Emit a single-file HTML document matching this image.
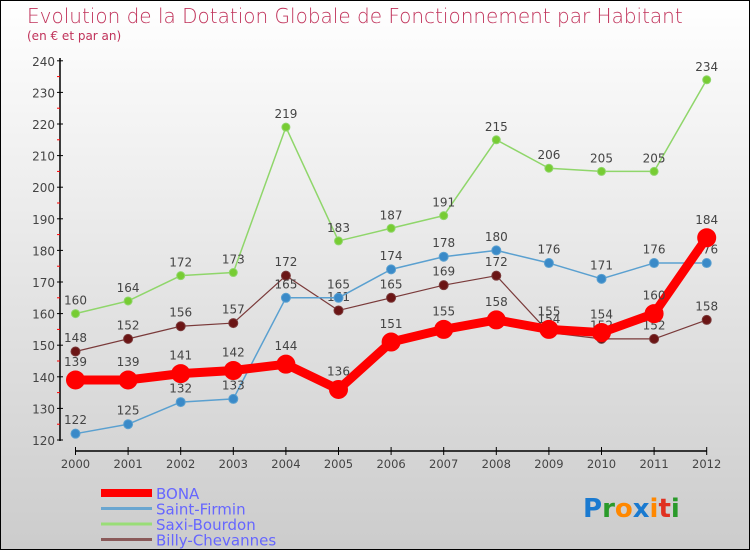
<!DOCTYPE html>
<html><head><meta charset="utf-8"><style>
body{margin:0}
#wrap{position:relative;width:748px;height:548px;border:1px solid #000;background:linear-gradient(#fff,#ccc);font-family:"DejaVu Sans","Liberation Sans",sans-serif;overflow:hidden}
svg text{font-family:"DejaVu Sans","Liberation Sans",sans-serif}
</style></head><body>
<div id="wrap">
<svg id="c" width="748" height="548">
<text x="26" y="22" font-size="20" fill="#c0325a" style="font-weight:200">Evolution de la Dotation Globale de Fonctionnement par Habitant</text>
<text x="26" y="39" font-size="12" fill="#c0325a">(en € et par an)</text>
</svg>
</div>
<script>
const years=["2000","2001","2002","2003","2004","2005","2006","2007","2008","2009","2010","2011","2012"];
const bona=[139,139,141,142,144,136,151,155,158,155,154,160,184];
const saintFirmin=[122,125,132,133,165,165,174,178,180,176,171,176,176];
const saxiBourdon=[160,164,172,173,219,183,187,191,215,206,205,205,234];
const billy=[148,152,156,157,172,161,165,169,172,154,152,152,158];
const yTicks=[120,130,140,150,160,170,180,190,200,210,220,230,240];
const NS="http://www.w3.org/2000/svg";
const svg=document.getElementById('c');
const x=i=>74.5+i*52.6;
const y=v=>439-(v-120)*3.16;
function mk(t,a,p){const e=document.createElementNS(NS,t);for(const k in a)e.setAttribute(k,a[k]);(p||svg).appendChild(e);return e;}
// axes
let ax=mk('line',{x1:59,y1:57,x2:59,y2:440,stroke:'#000','stroke-width':1.5});


yTicks.forEach(v=>{
  mk('line',{x1:56,x2:62,y1:y(v),y2:y(v),stroke:'#000'});
  if(v<240)mk('line',{x1:56,x2:59,y1:y(v+5),y2:y(v+5),stroke:'#f00'});
  const t=mk('text',{x:54,y:y(v)+5,'font-size':12,fill:'#444','text-anchor':'end'});
  t.textContent=v;
  
  
});
let xa=mk('line',{x1:x(0),y1:450,x2:x(12),y2:450,stroke:'#000','stroke-width':1.5});


years.forEach((yr,i)=>{
  mk('line',{x1:x(i),x2:x(i),y1:446,y2:454,stroke:'#000'});
  const t=mk('text',{x:x(i),y:467,'font-size':11.5,fill:'#444','text-anchor':'middle'});
  t.textContent=yr;
  
  
});
function series(data,color,dot,w,r,name){
  const g=mk('g',{});
  
  
  mk('polyline',{points:data.map((v,i)=>x(i)+','+y(v)).join(' '),fill:'none',stroke:color,'stroke-width':w,'stroke-linejoin':'round'},g);
  data.forEach((v,i)=>{
    const c=mk('circle',{cx:x(i),cy:y(v),r:r,fill:dot,stroke:color,'stroke-width':1},g);
    
    
    const t=mk('text',{x:x(i),y:y(v)-r-5,'font-size':12,fill:'#444','text-anchor':'middle'},g);
    t.textContent=v;
    
    
  });
}
series(saxiBourdon,'#8fd66a','#77cc33',1.5,4,'saxi-bourdon-series');
series(billy,'#7a3a3a','#6b1515',1.2,4.5,'billy-chevannes-series');
series(saintFirmin,'#5aa0d0','#3a8ac8',1.5,4.5,'saint-firmin-series');
series(bona,'#f00','#f00',9,9,'bona-series');
// legend
const leg=[["BONA","#f00",8],["Saint-Firmin","#6aa6d0",3],["Saxi-Bourdon","#99dd77",3],["Billy-Chevannes","#8a5a5a",3]];
leg.forEach((l,i)=>{
  const g=mk('g',{});
  
  
  const ly=492+i*15.5;
  mk('line',{x1:100,x2:151,y1:ly,y2:ly,stroke:l[1],'stroke-width':l[2]},g);
  const t=mk('text',{x:155,y:ly+6,'font-size':15,fill:'#6666ff'},g);
  t.textContent=l[0];
});
// logo
const lg=mk('text',{x:582,y:516,'font-size':26,'font-weight':'bold'});


[["P","#1a7ad0"],["r","#2a9a2a"],["o","#ff8800"],["x","#1a7ad0"],["i","#ff8800"],["t","#e03020"],["i","#2a9a2a"]].forEach(p=>{const s=mk('tspan',{fill:p[1]},lg);s.textContent=p[0];});
</script>
</body></html>
